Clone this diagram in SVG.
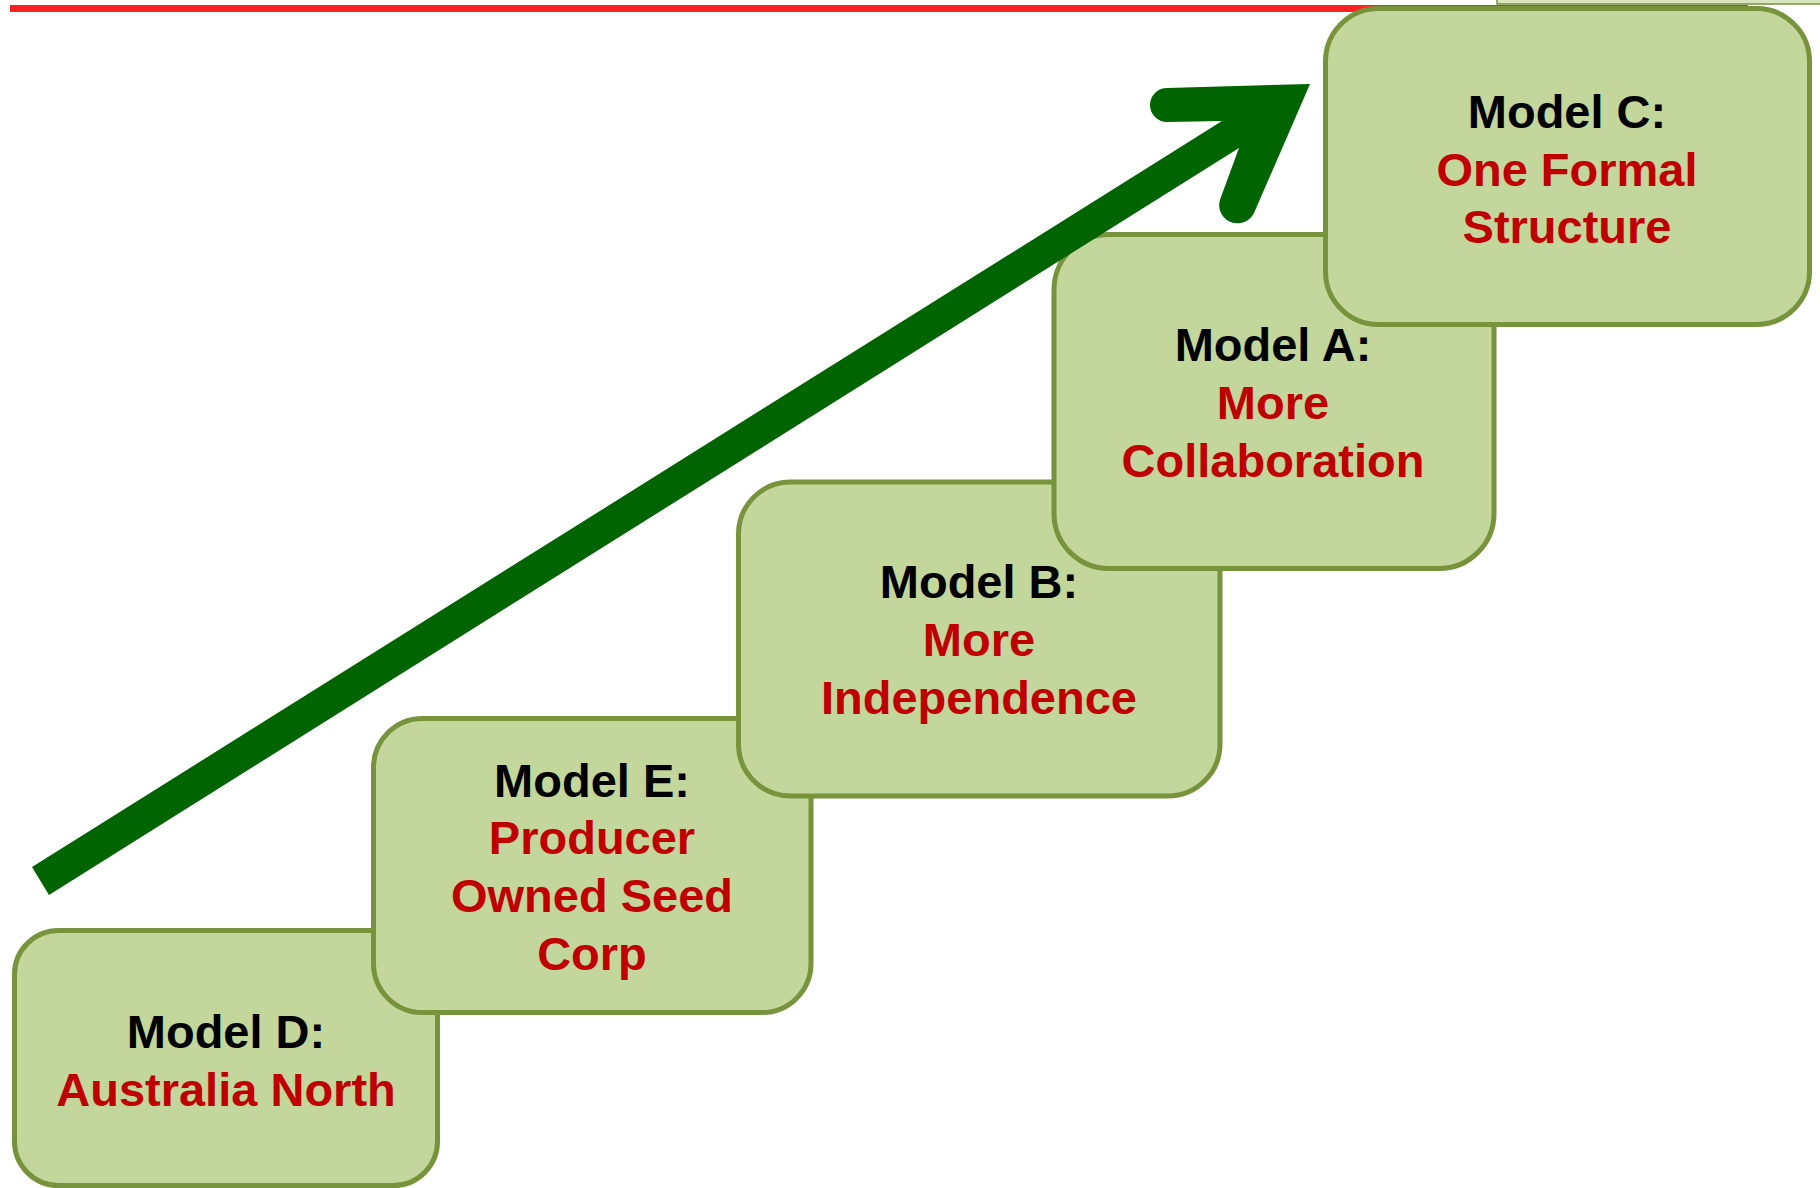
<svg xmlns="http://www.w3.org/2000/svg" width="1820" height="1188" viewBox="0 0 1820 1188">
  <defs>
    <style>
      .box { fill: #c3d69b; stroke: #77933c; stroke-width: 5; }
      .t { font-family: "Liberation Sans", Arial, sans-serif; font-weight: bold; font-size: 47px; text-anchor: middle; }
      .k { fill: #000000; }
      .r { fill: #c00000; }
    </style>
  </defs>
  <rect x="0" y="0" width="1820" height="1188" fill="#ffffff"/>
  <line x1="10" y1="8.5" x2="1748" y2="8.5" stroke="#ff2020" stroke-width="7"/>
  <rect x="1497" y="-10" width="340" height="14" fill="#d7e4bd" stroke="#77933c" stroke-width="1.5"/>

  <g id="node-d">
    <rect class="box" x="14.5" y="930.5" width="423" height="255" rx="44" ry="44"/>
    <text class="t k" x="226" y="1048">Model D:</text>
    <text class="t r" x="226" y="1106">Australia North</text>
  </g>
  <g id="node-e">
    <rect class="box" x="373.5" y="718.5" width="437.5" height="294" rx="49" ry="49"/>
    <text class="t k" x="592" y="797">Model E:</text>
    <text class="t r" x="592" y="854">Producer</text>
    <text class="t r" x="592" y="912">Owned Seed</text>
    <text class="t r" x="592" y="970">Corp</text>
  </g>
  <g id="node-b">
    <rect class="box" x="738.5" y="482" width="481.5" height="314" rx="52" ry="52"/>
    <text class="t k" x="979" y="598">Model B:</text>
    <text class="t r" x="979" y="656">More</text>
    <text class="t r" x="979" y="714">Independence</text>
  </g>
  <g id="node-a">
    <rect class="box" x="1054" y="234.5" width="440" height="334" rx="55" ry="55"/>
    <text class="t k" x="1273" y="361">Model A:</text>
    <text class="t r" x="1273" y="419">More</text>
    <text class="t r" x="1273" y="477">Collaboration</text>
  </g>
  <g id="node-c">
    <rect class="box" x="1325.5" y="8.5" width="484" height="316" rx="53" ry="53"/>
    <text class="t k" x="1567" y="128">Model C:</text>
    <text class="t r" x="1567" y="186">One Formal</text>
    <text class="t r" x="1567" y="243">Structure</text>
  </g>

  <g id="connectors">
    <path d="M 32,867 L 1222,121 L 1167,122 A 17,17 0 0 1 1167,88 L 1310,84 L 1254,213 A 18,18 0 0 1 1221,197 L 1239,148 L 49,895 Z" fill="#006400"/>
  </g>
</svg>
